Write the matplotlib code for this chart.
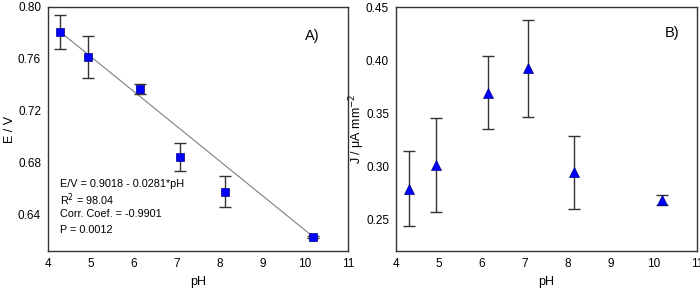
import numpy as np
import matplotlib
matplotlib.use("Agg")
import matplotlib.pyplot as plt

plt.rcParams['font.family'] = ['Liberation Sans', 'DejaVu Sans']

# --- Data ---
ph_a = [4.29, 4.94, 6.14, 7.07, 8.13, 10.19]
e_v = [0.7807, 0.7616, 0.7369, 0.6844, 0.6576, 0.6229]
e_err = [0.013, 0.016, 0.004, 0.011, 0.012, 0.001]

ph_b = [4.31, 4.94, 6.14, 7.08, 8.13, 10.19]
j_val = [0.2789, 0.3010, 0.3694, 0.3921, 0.2940, 0.2681]
j_err = [0.035, 0.044, 0.034, 0.046, 0.034, 0.005]

fit_text = ["E/V = 0.9018 - 0.0281*pH", "R$^2$ = 98.04",
            "Corr. Coef. = -0.9901", "P = 0.0012"]

fig = plt.figure(figsize=(7, 2.93), dpi=100)
W, H = 700, 293
axA = fig.add_axes([48 / W, 1 - 251 / H, 300 / W, 244 / H])
axB = fig.add_axes([396 / W, 1 - 251 / H, 301 / W, 244 / H])

# --- Panel A ---
# regression line drawn between the first and last measured points
axA.plot([ph_a[0], ph_a[-1]], [e_v[0], e_v[-1]], color='#808080', lw=0.8, zorder=1)
axA.errorbar(ph_a, e_v, yerr=e_err, fmt='none', ecolor='#333333',
             elinewidth=1.0, capsize=4, capthick=1.0, zorder=2)
axA.plot(ph_a, e_v, 's', color='#0000ff', mec='#000080', mew=0.5,
         ms=6, zorder=3)
axA.set_xlim(4, 11)
axA.set_ylim(0.612, 0.80)
axA.set_yticks([0.64, 0.68, 0.72, 0.76, 0.80])
axA.set_ylabel("E / V", fontsize=9, va='center')
axA.yaxis.set_label_coords(-0.128, 0.5)
axA.set_xlabel("pH", fontsize=9)
axA.text(10.0, 0.778, "A)", fontsize=10.5, va='center')
for i, t in enumerate(fit_text):
    axA.text(4.27, 0.6636 - i * 0.0117, t, fontsize=7.8, va='center')

# --- Panel B ---
axB.errorbar(ph_b, j_val, yerr=j_err, fmt='none', ecolor='#333333',
             elinewidth=1.0, capsize=4, capthick=1.0, zorder=2)
axB.plot(ph_b, j_val, '^', color='#0000ff', mec='#000080', mew=0.5,
         ms=7, zorder=3)
axB.set_xlim(4, 11)
axB.set_ylim(0.22, 0.45)
axB.set_yticks([0.25, 0.30, 0.35, 0.40, 0.45])
axB.set_ylabel("J / \u03bcA mm$^{-2}$", fontsize=9, va='center')
axB.yaxis.set_label_coords(-0.13, 0.5)
axB.set_xlabel("pH", fontsize=9)
axB.text(10.25, 0.4256, "B)", fontsize=10.5, va='center')

for ax in (axA, axB):
    ax.set_xticks(range(4, 12))
    ax.tick_params(length=0, labelsize=8.5, pad=5)
    for s in ax.spines.values():
        s.set_color('#333333')
        s.set_linewidth(1.0)
    ax.yaxis.set_major_formatter(matplotlib.ticker.FormatStrFormatter('%.2f'))

fig.savefig("out.png", dpi=100)
